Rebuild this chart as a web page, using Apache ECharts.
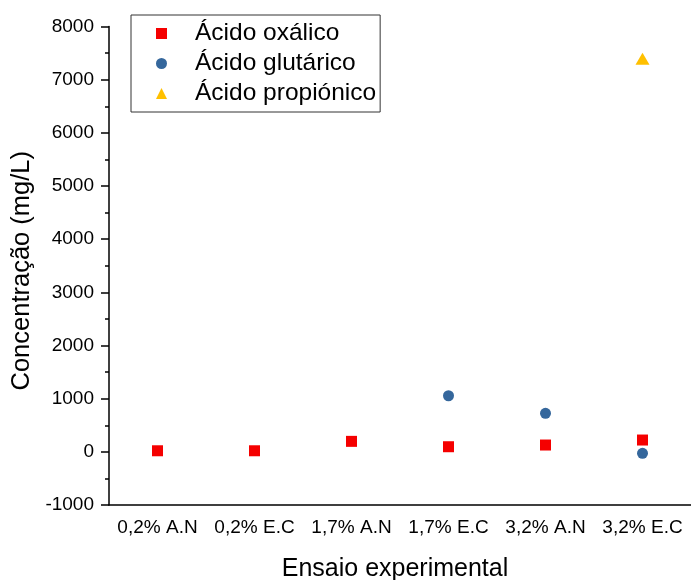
<!DOCTYPE html>
<html><head><meta charset="utf-8">
<script src="https://cdn.jsdelivr.net/npm/echarts@6/dist/echarts.min.js"></script>
<style>html,body{margin:0;padding:0;background:#fff}#c{width:691px;height:580px}</style>
</head><body><div id="c"></div>
<script>
const categories = ['0,2% A.N', '0,2% E.C', '1,7% A.N', '1,7% E.C', '3,2% A.N', '3,2% E.C'];
const oxalico = [20, 20, 197, 96, 128, 222];
const glutarico = [null, null, null, 1055, 724, -28];
const propionico = [null, null, null, null, null, 7395];
const yTicks = { min: -1000, max: 8000, interval: 1000 };
const FONT = 'Liberation Sans, Arial, sans-serif';

const chart = echarts.init(document.getElementById('c'), null, { renderer: 'canvas' });
chart.setOption({
  animation: false,
  backgroundColor: '#fff',
  grid: { left: 109, right: 0, top: 26.5, bottom: 75, containLabel: false, outerBoundsMode: 'none' },
  legend: {
    orient: 'vertical', left: 131, top: 15,
    padding: [6, 4, 6, 25],
    borderColor: '#333', borderWidth: 1,
    itemGap: 5, itemWidth: 11, itemHeight: 11,
    textStyle: { fontFamily: FONT, fontSize: 24.5, color: '#000', padding: [0, 0, 0, 23] },
    data: [
      { name: 'Ácido oxálico', icon: 'rect' },
      { name: 'Ácido glutárico', icon: 'circle' },
      { name: 'Ácido propiónico', icon: 'triangle' }
    ]
  },
  xAxis: [{
    type: 'category', data: categories, boundaryGap: true, position: 'bottom',
    name: 'Ensaio experimental', nameLocation: 'middle', nameGap: 52,
    nameTextStyle: { fontFamily: FONT, fontSize: 25, color: '#000', padding: [0, 10, 0, 0] },
    axisLine: { onZero: false, lineStyle: { color: '#000', width: 1.5 } },
    axisTick: { alignWithLabel: true, length: 8, lineStyle: { color: '#000', width: 1.5 } },
    axisLabel: { interval: 0, fontFamily: FONT, fontSize: 19, color: '#000', margin: 13 },
    splitLine: { show: false }
  }, {
    type: 'category', data: categories, boundaryGap: true, position: 'bottom',
    axisLine: { show: false, onZero: false },
    axisTick: { interval: 0, length: 4, lineStyle: { color: '#000', width: 1.5 } },
    axisLabel: { show: false },
    splitLine: { show: false }
  }],
  yAxis: {
    type: 'value', min: yTicks.min, max: yTicks.max, interval: yTicks.interval,
    name: 'Concentração (mg/L)', nameLocation: 'middle', nameGap: 70, nameRotate: 90,
    nameTextStyle: { fontFamily: FONT, fontSize: 25.5, color: '#000', padding: [0, 10, 0, 0] },
    axisLine: { show: true, lineStyle: { color: '#000', width: 1.5 } },
    axisTick: { show: true, length: 8, lineStyle: { color: '#000', width: 1.5 } },
    minorTick: { show: true, splitNumber: 2, length: 4, lineStyle: { color: '#000', width: 1.5 } },
    axisLabel: { fontFamily: FONT, fontSize: 19, color: '#000', margin: 15, formatter: v => String(v) },
    splitLine: { show: false }
  },
  series: [
    { name: 'Ácido oxálico', type: 'scatter', symbol: 'rect', symbolSize: 11, data: oxalico, itemStyle: { color: '#f50000', opacity: 1 } },
    { name: 'Ácido glutárico', type: 'scatter', symbol: 'circle', symbolSize: 11, data: glutarico, itemStyle: { color: '#35679c', opacity: 1 } },
    { name: 'Ácido propiónico', type: 'scatter', symbol: 'triangle', symbolSize: [14, 12], data: propionico, itemStyle: { color: '#ffc000', opacity: 1 } }
  ]
});
</script></body></html>
